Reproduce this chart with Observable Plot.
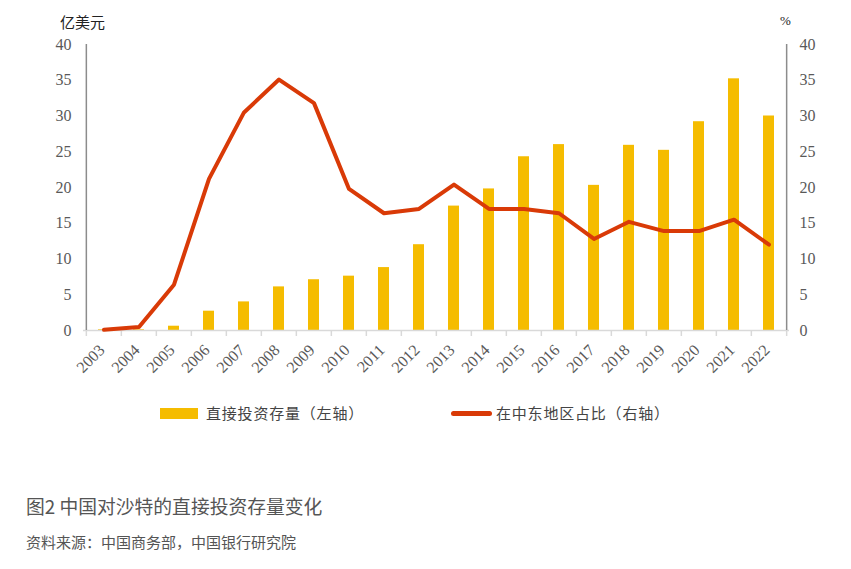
<!DOCTYPE html>
<html><head><meta charset="utf-8">
<script src="https://cdn.jsdelivr.net/npm/d3@7"></script>
<script src="https://cdn.jsdelivr.net/npm/@observablehq/plot@0.6"></script>
<style>
body{margin:0;background:#fff;width:851px;height:569px;position:relative;overflow:hidden;}
#chart{position:absolute;left:0;top:0;}
.lbl{position:absolute;font-family:"Noto Sans CJK SC",sans-serif;white-space:nowrap;line-height:1;}
</style></head>
<body>
<div id="chart"></div>
<div class="lbl" style="left:60px;top:14px;font-size:15px;color:#222;">亿美元</div>
<div class="lbl" style="left:780px;top:14px;font-size:13px;color:#222;font-family:'Liberation Serif',serif;">%</div>
<div class="lbl" style="left:160px;top:408px;width:38px;height:11px;background:#F5BC00;"></div>
<div class="lbl" style="left:206px;top:405px;font-size:15px;letter-spacing:0.8px;color:#444;">直接投资存量（左轴）</div>
<div class="lbl" style="left:451px;top:411px;width:41px;height:5px;border-radius:2.5px;background:#D93A07;"></div>
<div class="lbl" style="left:496px;top:405px;font-size:15px;letter-spacing:0.8px;color:#444;">在中东地区占比（右轴）</div>
<div class="lbl" style="left:26px;top:497px;font-size:18.8px;color:#555;">图2  中国对沙特的直接投资存量变化</div>
<div class="lbl" style="left:26px;top:534px;font-size:15px;color:#555;">资料来源：中国商务部，中国银行研究院</div>
<script>
const years = ["2003","2004","2005","2006","2007","2008","2009","2010","2011","2012","2013","2014","2015","2016","2017","2018","2019","2020","2021","2022"];
const stock = [0.1,0.1,0.6,2.7,4.0,6.1,7.1,7.6,8.8,12.0,17.4,19.8,24.3,26.0,20.3,25.9,25.2,29.2,35.2,30.0];
const share = [0.1,0.5,6.4,21.2,30.5,35.1,31.8,19.8,16.4,17.0,20.4,17.0,17.0,16.4,12.8,15.2,13.9,13.9,15.5,12.0];
const yTicks = [0,5,10,15,20,25,30,35,40];

const W = 851, H = 400, mL = 83, mR = 62, mT = 44, mB = 70;
const step = (W - mL - mR) / years.length;
const pad = 0.69;
const bars = years.map((y,i)=>({year:y, v:stock[i]}));
const pts = years.map((y,i)=>({year:y, v:share[i]}));

const plot = Plot.plot({
  width: W, height: H,
  marginLeft: mL, marginRight: mR, marginTop: mT, marginBottom: mB,
  style: {fontFamily: "'Liberation Serif', serif", fontSize: "16px", color: "#595959", background: "#fff"},
  x: {type: "band", domain: years, paddingInner: pad, paddingOuter: pad/2, align: 0.5},
  y: {domain: [0, 40]},
  marks: [
    Plot.barY(bars, {x: "year", y: "v", fill: "#F5BC00"}),
    Plot.ruleY([0], {stroke: "#d9d9d9", strokeWidth: 1.5}),
    Plot.ruleX(years, {x: d=>d, dx: -step/2, y1: 0, y2: 0, insetBottom: -6, stroke: "#d9d9d9", strokeWidth: 1.5}),
    Plot.ruleX(["2022"], {x: d=>d, dx: step/2, y1: 0, y2: 0, insetBottom: -6, stroke: "#d9d9d9", strokeWidth: 1.5}),
    Plot.ruleX(["2003"], {x: d=>d, dx: -step/2, y1: 0, y2: 40, stroke: "#8c8c8c", strokeWidth: 1.5}),
    Plot.ruleX(["2022"], {x: d=>d, dx: step/2, y1: 0, y2: 40, stroke: "#8c8c8c", strokeWidth: 1.5}),
    Plot.line(pts, {x: "year", y: "v", stroke: "#D93A07", strokeWidth: 4, strokeLinejoin: "round", strokeLinecap: "round"}),
    Plot.axisY({anchor: "left", ticks: yTicks, tickSize: 0, tickPadding: 12, label: null, fill: "#595959"}),
    Plot.axisY({anchor: "right", ticks: yTicks, tickSize: 0, tickPadding: 10, label: null, fill: "#595959"}),
    Plot.axisX({tickRotate: -45, tickSize: 0, tickPadding: 17, dx: -2, label: null, fill: "#595959"})
  ]
});
document.getElementById("chart").appendChild(plot);
</script>
</body></html>
